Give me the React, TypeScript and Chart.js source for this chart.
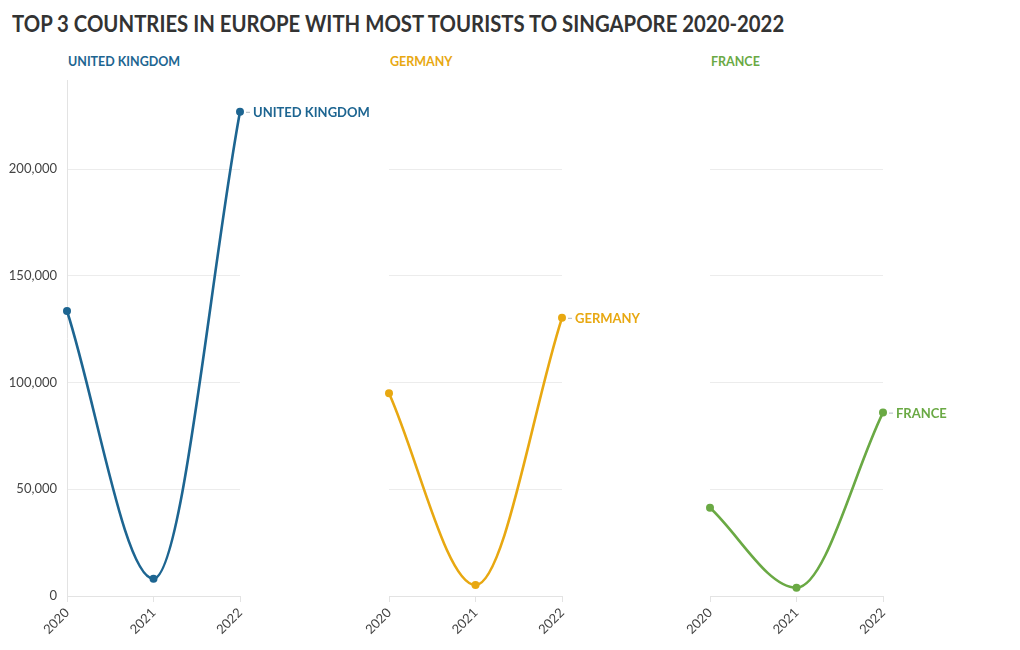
import React, { useEffect, useRef } from "react";
import { Chart, registerables } from "chart.js";

Chart.register(...registerables);

const years = ["2020", "2021", "2022"];
const countries = ["UNITED KINGDOM", "GERMANY", "FRANCE"];
const ukValues = [133500, 8100, 226800];
const germanyValues = [95000, 5150, 130300];
const franceValues = [41300, 3900, 85900];
const colors = ["#1d6591", "#e8a811", "#6aa944"];
const yTicks = [0, 50000, 100000, 150000, 200000];
const yMax = 241700;
const title = "TOP 3 COUNTRIES IN EUROPE WITH MOST TOURISTS TO SINGAPORE 2020-2022";

const FONT = "Lato, 'Open Sans', sans-serif";

type PanelProps = {
  name: string;
  values: number[];
  color: string;
  first: boolean;
  left: number; // chart area left in page px
};

const CHART_W = 173; // chart area width
const TOP = 80;
const BOTTOM = 596;
const H = 650;
const Y_AXIS_W = 67;

const endLabel = {
  id: "endLabel",
  afterDatasetsDraw(chart: any, _args: any, opts: any) {
    const meta = chart.getDatasetMeta(0);
    const pt = meta.data[meta.data.length - 1];
    if (!pt) return;
    const ctx = chart.ctx;
    ctx.save();
    ctx.strokeStyle = "#b0b8c0";
    ctx.lineWidth = 1;
    ctx.beginPath();
    ctx.moveTo(pt.x + 6, pt.y + 0.5);
    ctx.lineTo(pt.x + 10, pt.y + 0.5);
    ctx.stroke();
    ctx.fillStyle = opts.color;
    ctx.font = `bold 13px ${FONT}`;
    ctx.textBaseline = "middle";
    ctx.textAlign = "left";
    ctx.fillText(opts.text, pt.x + 13, pt.y + 1);
    ctx.restore();
  },
};

function Panel({ name, values, color, first, left }: PanelProps) {
  const ref = useRef<HTMLCanvasElement | null>(null);
  const canvasLeft = left - Y_AXIS_W;
  const canvasW = Y_AXIS_W + CHART_W + 140;

  useEffect(() => {
    if (!ref.current) return;
    const chart = new Chart(ref.current, {
      type: "line",
      data: {
        labels: years,
        datasets: [
          {
            data: values,
            borderColor: color,
            backgroundColor: color,
            borderWidth: 2.6,
            pointRadius: 4,
            pointHoverRadius: 4,
            pointBackgroundColor: color,
            pointBorderWidth: 0,
            cubicInterpolationMode: "monotone",
            clip: false as any,
          },
        ],
      },
      options: {
        responsive: false,
        animation: false,
        events: [],
        layout: { padding: { top: TOP, left: 0, right: 140, bottom: 0 } },
        plugins: {
          legend: { display: false },
          tooltip: { enabled: false },
          title: { display: false },
          endLabel: { color, text: name },
        } as any,
        scales: {
          x: {
            type: "category",
            offset: false,
            grid: {
              display: true,
              drawOnChartArea: false,
              drawTicks: true,
              tickLength: 6,
              color: "#e3e3e3",
            },
            border: { display: true, color: "#e3e3e3" },
            ticks: {
              minRotation: 45,
              maxRotation: 45,
              padding: 3,
              color: "#444",
              font: { family: FONT, size: 13 },
            },
            afterFit(scale: any) {
              scale.height = H - BOTTOM;
            },
          },
          y: {
            min: 0,
            max: yMax,
            afterBuildTicks(scale: any) {
              scale.ticks = yTicks.map((v) => ({ value: v }));
            },
            grid: {
              display: true,
              drawTicks: false,
              color: "#ececec",
            },
            border: { display: first, color: "#e3e3e3" },
            ticks: {
              display: first,
              padding: 10,
              color: "#444",
              font: { family: FONT, size: 13 },
              callback: (v: any) => Number(v).toLocaleString("en-US"),
            },
            afterFit(scale: any) {
              scale.width = Y_AXIS_W;
            },
          },
        },
      },
      plugins: [endLabel],
    });
    return () => chart.destroy();
  }, []);

  return (
    <>
      <div
        style={{
          position: "absolute",
          left: left + 1,
          top: 53,
          fontFamily: FONT,
          fontWeight: 700,
          fontSize: 13,
          color,
          whiteSpace: "nowrap",
          transform: "scaleX(0.96)",
          transformOrigin: "left top",
        }}
      >
        {name}
      </div>
      <canvas
        ref={ref}
        width={canvasW}
        height={H}
        style={{ position: "absolute", left: canvasLeft, top: 0, width: canvasW, height: H }}
      />
    </>
  );
}

export default function App() {
  const lefts = [67, 389, 710];
  const vals = [ukValues, germanyValues, franceValues];
  return (
    <div
      style={{
        position: "fixed",
        left: 0,
        top: 0,
        width: 1020,
        height: 650,
        background: "#fff",
        overflow: "hidden",
      }}
    >
      <div
        style={{
          position: "absolute",
          left: 12,
          top: 10,
          fontFamily: FONT,
          fontWeight: 700,
          fontSize: 22,
          color: "#333",
          whiteSpace: "nowrap",
          transform: "scaleX(0.924)",
          transformOrigin: "left top",
        }}
      >
        {title}
      </div>
      {countries.map((c, i) => (
        <Panel key={c} name={c} values={vals[i]} color={colors[i]} first={i === 0} left={lefts[i]} />
      ))}
    </div>
  );
}
